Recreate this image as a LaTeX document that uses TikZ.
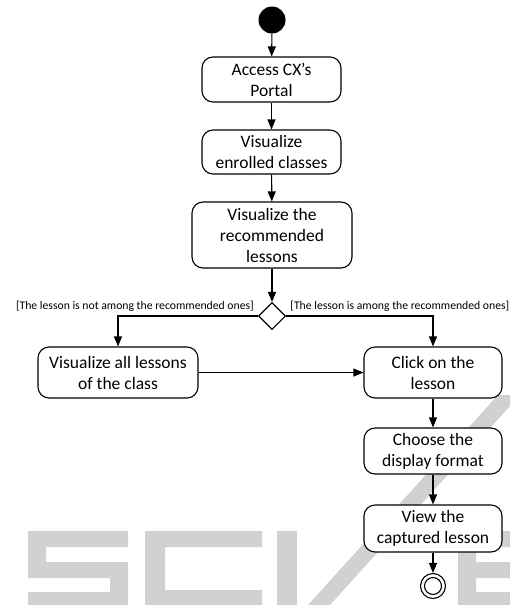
\documentclass[tikz,border=0pt]{standalone}
\usepackage{fontspec}
\setmainfont{Carlito}
\usetikzlibrary{arrows.meta,shapes.geometric}
\newcommand{\apos}{\symbol{"27}}
\begin{document}
\begin{tikzpicture}[x=1pt,y=-1pt,
  act/.style={draw,fill=white,rounded corners=11pt,line width=1.1pt,align=center,
    font=\fontsize{17.5}{21}\selectfont,inner sep=0pt},
  flow/.style={line width=1.1pt,-{Triangle[length=10pt,width=8pt]}},
  guard/.style={font=\fontsize{11.7}{14}\selectfont,inner sep=0pt},
  wm/.style={fill=black!18,draw=none}]
\useasboundingbox (0,0) rectangle (510,605);
% faint lettering in the background
\begin{scope}
\clip (0,0) rectangle (510,605);
\fill[wm] (28,531) rectangle (128,547) (28,531) rectangle (46,575)
          (28,562) rectangle (128,578) (110,562) rectangle (128,605)
          (28,592) rectangle (128,605);
\fill[wm] (145,531) rectangle (262,547) (145,531) rectangle (165,605)
          (145,590) rectangle (262,605);
\fill[wm] (277,531) rectangle (297,605);
\fill[wm] (308,605) -- (330,605) -- (520,395) -- (498,395) -- cycle;
\fill[wm] (458,531) rectangle (520,547) (458,531) rectangle (476,605)
          (458,562) rectangle (520,578) (458,592) rectangle (520,605);
\end{scope}
% activity flow
\node[circle,fill=black,minimum size=27pt,inner sep=0pt] (start) at (272,20) {};
\node[act,minimum width=139pt,minimum height=45pt] (portal) at (271.5,79.5) {Access CX\apos s\\Portal};
\node[act,minimum width=139pt,minimum height=44pt] (classes) at (271.5,152) {Visualize\\enrolled classes};
\node[act,minimum width=160pt,minimum height=66pt] (recom) at (272,235) {Visualize the\\recommended\\lessons};
\node[diamond,draw,fill=white,line width=1.1pt,minimum width=27pt,minimum height=27pt,inner sep=0pt] (dec) at (272,316) {};
\node[guard,anchor=base east] (gno) at (254,309) {[The lesson is not among the recommended ones]};
\node[guard,anchor=base east] (gyes) at (509.5,309) {[The lesson is among the recommended ones]};
\node[act,minimum width=160pt,minimum height=51pt] (all) at (118,372.5) {Visualize all lessons\\of the class};
\node[act,minimum width=138pt,minimum height=51pt] (click) at (433,372.5) {Click on the\\lesson};
\node[act,minimum width=138pt,minimum height=46pt] (format) at (433,451) {Choose the\\display format};
\node[act,minimum width=138pt,minimum height=47pt] (view) at (433,528.5) {View the\\captured lesson};
\node[circle,draw,line width=1.1pt,fill=white,minimum size=25pt,inner sep=0pt] (end) at (433,586) {};
\draw[line width=1.1pt] (end.center) circle (8.5pt);
\draw[flow] (start) -- (portal);
\draw[flow] (portal) -- (classes);
\draw[flow] (classes) -- (recom);
\draw[flow] (recom) -- (dec);
\draw[flow] (dec.west) -| (all.north);
\draw[flow] (dec.east) -| (click.north);
\draw[flow] (all.east) -- (click.west);
\draw[flow] (click) -- (format);
\draw[flow] (format) -- (view);
\draw[flow] (view) -- (end);
\end{tikzpicture}
\end{document}
